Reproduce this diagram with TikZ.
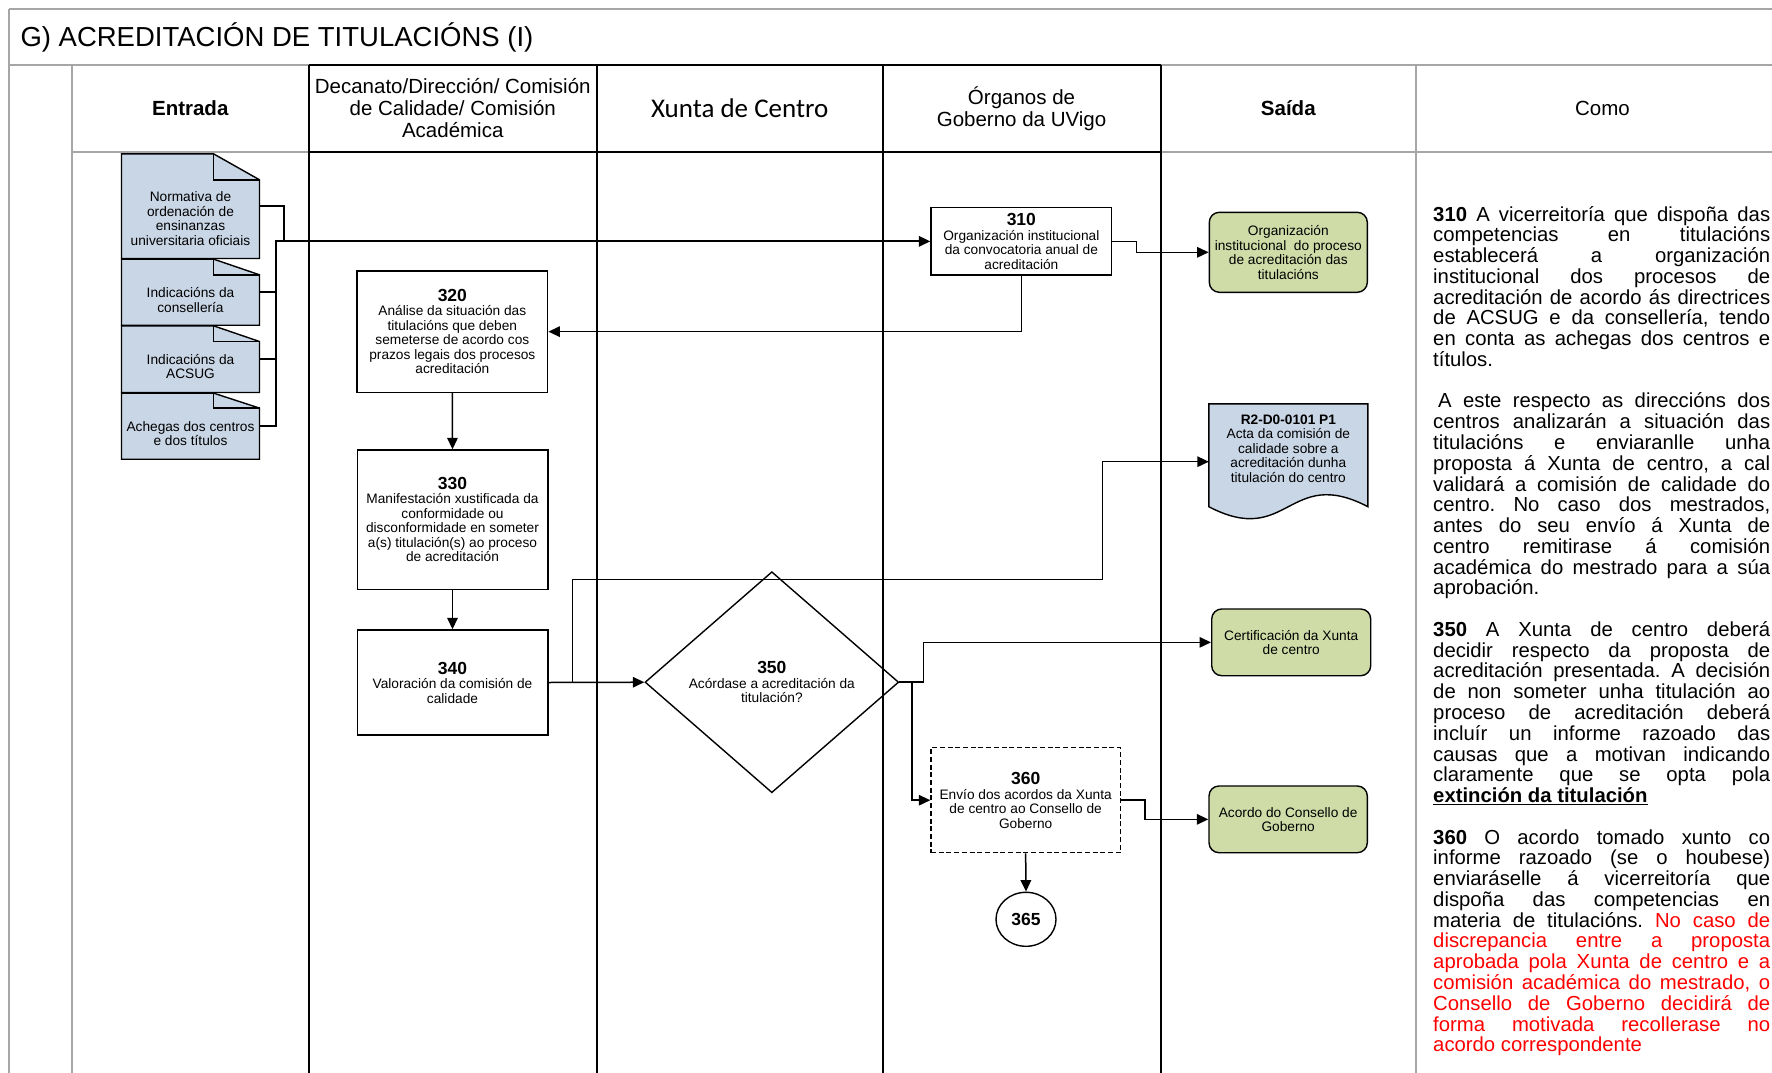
\documentclass[tikz,border=0pt]{standalone}
\usepackage{fontspec}
\setmainfont{Liberation Sans}
\newfontfamily\carlitofont{Carlito}
\usetikzlibrary{arrows.meta,shapes.geometric,calc}
\definecolor{docblue}{HTML}{C9D6E6}
\definecolor{outgreen}{HTML}{CFDCA8}
\definecolor{gridgray}{HTML}{A6A6A6}
\frenchspacing
\newcommand\bodyfont{\fontsize{13.7}{14.5}\selectfont}
\newcommand\numfont{\fontsize{17.5}{14.5}\selectfont\bfseries}
\newcommand\hdrfont{\fontsize{20.5}{22}\selectfont}
\newcommand\comofont{\fontsize{20.3}{20.77}\selectfont}
\newcommand\Jl[1]{\makebox[337pt][s]{#1}\par}
\newcommand\Ll[1]{\mbox{#1}\par}
\newcommand\docshape[3]{%
  \filldraw[fill=docblue, draw=black, line width=1.4pt, line join=miter]
    (#1.south west) -- (#1.north west) -- ([xshift=-#2pt]#1.north east)
    -- ([yshift=-#3pt]#1.north east) -- (#1.south east) -- cycle;
  \draw[line width=1.4pt] ([xshift=-#2pt]#1.north east) |- ([yshift=-#3pt]#1.north east);}
\tikzset{
  gline/.style={draw=gridgray, line width=2pt},
  lane/.style={draw=black, line width=2pt},
  proc/.style={draw, line width=1.4pt, fill=white, align=center, font=\bodyfont, inner sep=2pt},
  conn/.style={line width=1.5pt, -{Triangle[length=11.5pt,width=10.5pt]}},
  plainconn/.style={line width=1.5pt},
  docbox/.style={minimum width=137.6pt, inner sep=0pt},
  doctext/.style={align=center, font=\bodyfont, inner sep=0pt},
  outbox/.style={draw, line width=1.4pt, fill=outgreen, rounded corners=10pt, align=center, font=\bodyfont, inner sep=2pt},
  hdr/.style={align=center, font=\hdrfont, inner sep=0pt}
}
\begin{document}
\begin{tikzpicture}[x=1pt,y=-1pt]
\useasboundingbox (0,0) rectangle (1772,1073);
% frame
\draw[gline] (9,9) -- (1772,9);
\draw[gline] (9,9) -- (9,1073);
\draw[gline] (9,65.5) -- (1772,65.5);
\draw[gline] (72,65.5) -- (72,1073);
\draw[gline] (1416,65.5) -- (1416,1073);
\draw[gline] (72,152) -- (1772,152);
\draw[lane] (308.5,65.5) -- (1160.6,65.5);
\draw[lane] (308.5,152) -- (1160.6,152);
\draw[lane] (308.5,65.5) -- (308.5,1073);
\draw[lane] (597,65.5) -- (597,1073);
\draw[lane] (882.5,65.5) -- (882.5,1073);
\draw[lane] (1160.6,65.5) -- (1160.6,1073);
% title and headers
\node[anchor=west, inner sep=0pt, font=\fontsize{27.5}{30}\selectfont] (title) at (20.3,37) {G) ACREDITACIÓN DE TITULACIÓNS (I)};
\node[hdr, font=\hdrfont\bfseries] (hent) at (190.25,108.5) {Entrada};
\node[hdr] (hdec) at (452.75,108.5) {Decanato/Dirección/ Comisión\\de Calidade/ Comisión\\Académica};
\node[hdr, font=\carlitofont\fontsize{27}{30}\selectfont] (hxun) at (739.75,108.5) {Xunta de Centro};
\node[hdr] (horg) at (1021.55,108.5) {Órganos de\\Goberno da UVigo};
\node[hdr, font=\hdrfont\bfseries] (hsai) at (1288.3,108.5) {Saída};
\node[hdr] (hcom) at (1602.5,108.5) {Como};
% entrada documents
\node[docbox, minimum height=104.3pt] (d1) at (190.5,206.15) {};
\docshape{d1}{46}{26}
\node[doctext] (d1t) at (190.5,218.7) {Normativa de\\ordenación de\\ensinanzas\\universitaria oficiais};
\node[docbox, minimum height=65.7pt] (d2) at (190.5,292.15) {};
\docshape{d2}{46}{15.7}
\node[doctext] (d2t) at (190.5,300) {Indicacións da\\consellería};
\node[docbox, minimum height=66.3pt] (d3) at (190.5,359.15) {};
\docshape{d3}{46}{15.7}
\node[doctext] (d3t) at (190.5,366.3) {Indicacións da\\ACSUG};
\node[docbox, minimum height=65.7pt] (d4) at (190.5,426.15) {};
\docshape{d4}{46}{15}
\node[doctext] (d4t) at (190.5,433.8) {Achegas dos centros\\e dos títulos};
% process boxes
\node[proc, minimum width=180.7pt, minimum height=67.3pt] (b310) at (1021.35,241.35) {{\numfont 310}\\Organización institucional\\da convocatoria anual de\\acreditación};
\node[proc, minimum width=190.7pt, minimum height=121.3pt] (b320) at (452.35,331.65) {{\numfont 320}\\Análise da situación das\\titulacións que deben\\semeterse de acordo cos\\prazos legais dos procesos\\acreditación};
\node[proc, minimum width=190.6pt, minimum height=139.3pt] (b330) at (452.5,519.65) {{\numfont 330}\\Manifestación xustificada da\\conformidade ou\\disconformidade en someter\\a(s) titulación(s) ao proceso\\de acreditación};
\node[proc, minimum width=190.6pt, minimum height=105pt] (b340) at (452.5,682.5) {{\numfont 340}\\Valoración da comisión de\\calidade};
\node[diamond, draw, line width=1.4pt, minimum width=253.7pt, minimum height=221pt, inner sep=0pt, align=center, font=\bodyfont] (d350) at (771.85,682.2) {{\numfont 350}\\Acórdase a acreditación da\\titulación?};
\node[proc, dash pattern=on 5pt off 2.7pt, minimum width=189.3pt, minimum height=105pt] (b360) at (1025.65,800.2) {{\numfont 360}\\Envío dos acordos da Xunta\\de centro ao Consello de\\Goberno};
\node[ellipse, draw, line width=1.4pt, fill=white, minimum width=60pt, minimum height=54pt, inner sep=0pt, font=\numfont] (c365) at (1026,919.3) {365};
% outputs
\node[outbox, minimum width=158pt, minimum height=80pt] (g1) at (1288.3,252.3) {Organización\\institucional\ \ do proceso\\de acreditación das\\titulacións};
\node[inner sep=0pt, minimum width=158.7pt, minimum height=115.4pt] (r2) at (1288.35,461.7) {};
\filldraw[fill=docblue, draw=black, line width=1.4pt] (r2.north west) -- (r2.north east) -- ([yshift=12.9pt]r2.south east)
  .. controls ([yshift=54.4pt]r2.south) and ([yshift=-28.6pt]r2.south) .. ([yshift=12.9pt]r2.south west) -- cycle;
\node[doctext] (r2t) at (1288.35,448.5) {{\bfseries R2-D0-0101 P1}\\Acta da comisión de\\calidade sobre a\\acreditación dunha\\titulación do centro};
\node[outbox, minimum width=159pt, minimum height=66.7pt] (g2) at (1291.2,642.35) {Certificación da Xunta\\de centro};
\node[outbox, minimum width=158.3pt, minimum height=66.7pt] (g3) at (1288.15,819.35) {Acordo do Consello de\\Goberno};
% connectors
\draw[plainconn] (d1.east) -- ++(24.7,0) -- ++(0,35.2);
\draw[plainconn] (d2.east) -- ++(16.4,0);
\draw[plainconn] (d3.east) -- ++(16.4,0);
\draw[conn, line width=1.8pt] (d4.east) -- ++(16.4,0) |- (b310.west);
\draw[conn] (b310.east) -- ++(24.3,0) |- (g1.west);
\draw[conn] (b310.south) |- (b320.east);
\draw[conn] (b320.south) -- (b330.north);
\draw[conn] (b330.south) -- (b340.north);
\draw[conn] (b340.east) -- (d350.west);
\draw[conn] (b340.east) -- ++(24.1,0) -- ++(0,-103.2) -- ++(529.8,0) |- (r2.west);
\draw[conn] (d350.east) -- ++(24.3,0) |- (g2.west);
\draw[conn] (d350.east) -- ++(12.5,0) |- (b360.west);
\draw[conn] (b360.east) -- ++(24,0) |- (g3.west);
\draw[conn] (b360.south) -- (c365.north);
% como text
\node[anchor=base west, inner sep=0pt] (como) at (1433,221) {\vtop{\hsize=337pt\parindent=0pt\comofont
\Jl{\textbf{310} A vicerreitoría que dispoña das}
\Jl{competencias en titulacións}
\Jl{establecerá a organización}
\Jl{institucional dos procesos de}
\Jl{acreditación de acordo ás directrices}
\Jl{de ACSUG e da consellería, tendo}
\Jl{en conta as achegas dos centros e}
\Ll{títulos.}
\Ll{}
\Jl{\hspace*{5pt}A este respecto as direccións dos}
\Jl{centros analizarán a situación das}
\Jl{titulacións e enviaranlle unha}
\Jl{proposta á Xunta de centro, a cal}
\Jl{validará a comisión de calidade do}
\Jl{centro. No caso dos mestrados,}
\Jl{antes do seu envío á Xunta de}
\Jl{centro remitirase á comisión}
\Jl{académica do mestrado para a súa}
\Ll{aprobación.}
\Ll{}
\Jl{\textbf{350} A Xunta de centro deberá}
\Jl{decidir respecto da proposta de}
\Jl{acreditación presentada. A decisión}
\Jl{de non someter unha titulación ao}
\Jl{proceso de acreditación deberá}
\Jl{incluír un informe razoado das}
\Jl{causas que a motivan indicando}
\Jl{claramente que se opta pola}
\Ll{\underline{\textbf{extinción da titulación}}}
\Ll{}
\Jl{\textbf{360} O acordo tomado xunto co}
\Jl{informe razoado (se o houbese)}
\Jl{enviaráselle á vicerreitoría que}
\Jl{dispoña das competencias en}
\Jl{materia de titulacións. \textcolor{red}{No caso de}}
\Jl{\textcolor{red}{discrepancia entre a proposta}}
\Jl{\textcolor{red}{aprobada pola Xunta de centro e a}}
\Jl{\textcolor{red}{comisión académica do mestrado, o}}
\Jl{\textcolor{red}{Consello de Goberno decidirá de}}
\Jl{\textcolor{red}{forma motivada recollerase no}}
\Ll{\textcolor{red}{acordo correspondente}}
}};
\end{tikzpicture}
\end{document}
